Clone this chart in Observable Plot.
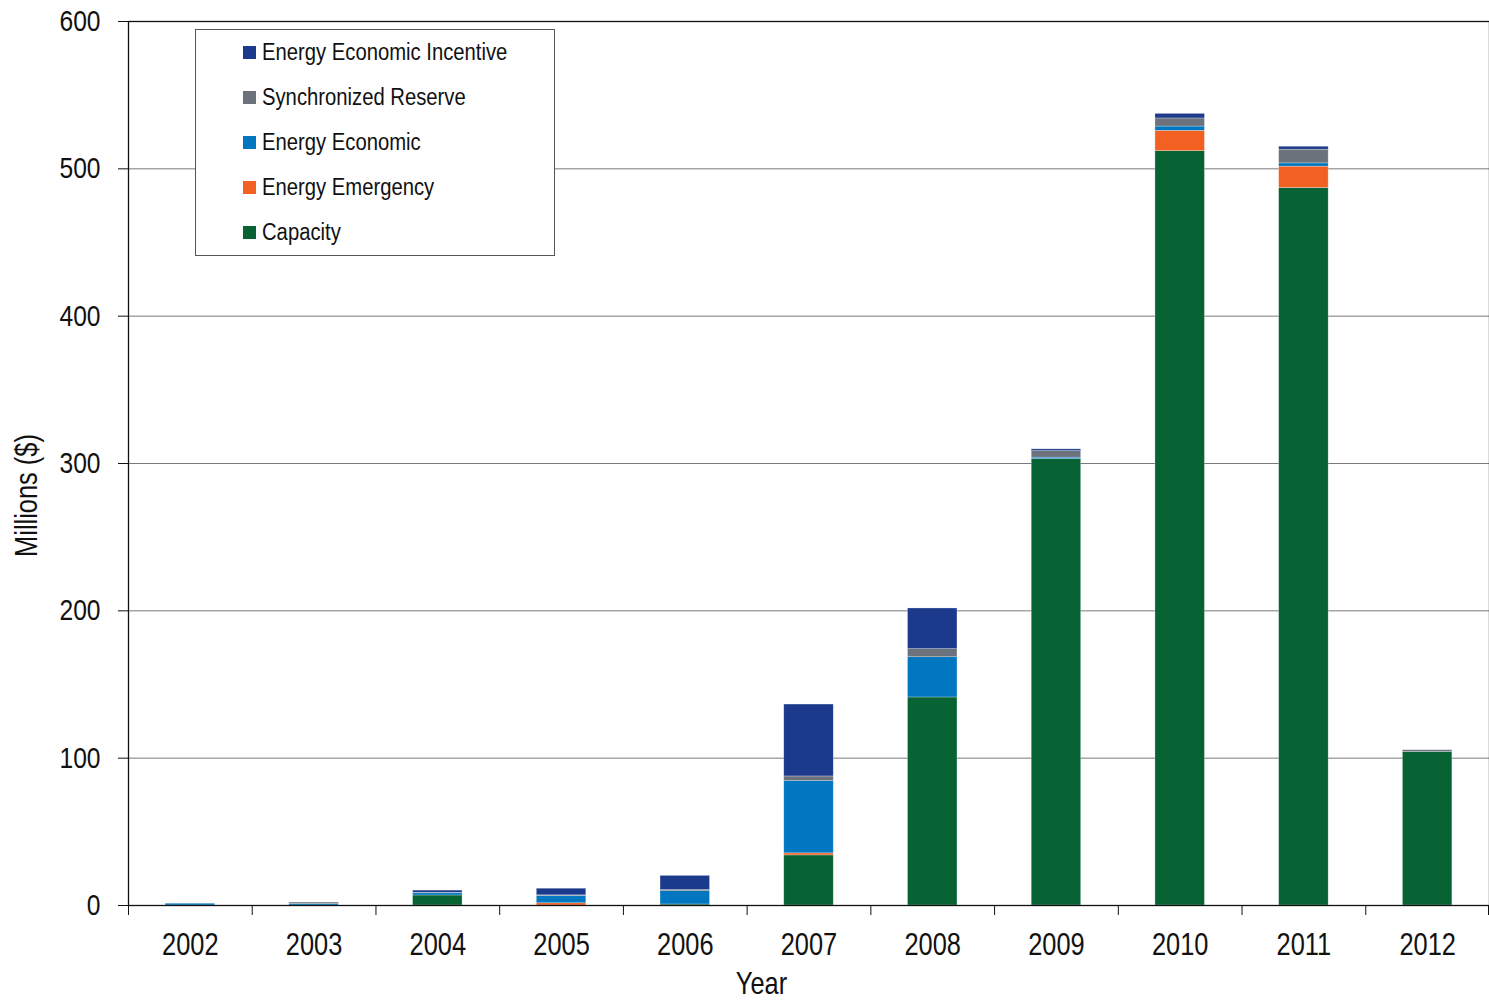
<!DOCTYPE html>
<html>
<head>
<meta charset="utf-8">
<script src="https://cdn.jsdelivr.net/npm/d3@7"></script>
<script src="https://cdn.jsdelivr.net/npm/@observablehq/plot@0.6"></script>
<style>
  html, body { margin: 0; padding: 0; background: #fff; }
  #wrap { position: relative; width: 1489px; height: 1000px; overflow: hidden;
    font-family: 'Liberation Sans', Arial, sans-serif; }
  #legend { position: absolute; left: 195px; top: 29px; width: 360px; height: 227px;
    border: 1px solid #555; background: #fff; box-sizing: border-box; }
  .sw { position: absolute; left: 47px; width: 13px; height: 13px; }
  .lt { position: absolute; left: 66px; font-size: 24.7px; line-height: 24.7px; color: #111;
    white-space: nowrap; transform: scaleX(0.82); transform-origin: 0 0; }
</style>
</head>
<body>
<div id="wrap"><div id="legend"></div></div>
<script>
const years = ["2002","2003","2004","2005","2006","2007","2008","2009","2010","2011","2012"];
const seriesNames = ["Capacity","Energy Emergency","Energy Economic","Synchronized Reserve","Energy Economic Incentive"];
const seriesColors = ["#076333","#f26122","#0077c0","#6b727b","#1c3a8c"];
const legendOrder = ["Energy Economic Incentive","Synchronized Reserve","Energy Economic","Energy Emergency","Capacity"];

const capacity  = [0,   0,   6.8, 0,   0.7, 34,   141.2, 303, 512,  487,  104.2];
const emergency = [0,   0,   0,   1.5, 0,   1.4,  0,     0,   13.8, 14.5, 0];
const economic  = [1.2, 1.0, 1.5, 5.0, 9.0, 49,   27.3,  1.0, 2.9,  2.2,  0];
const synch     = [0,   1.0, 0.3, 0.4, 0.8, 3.2,  5.5,   4.4, 5.5,  9.3,  1.2];
const incentive = [0,   0,   1.5, 4.5, 9.6, 48.8, 27.6,  1.2, 3.1,  2.0,  0];
const yTicks = [0,100,200,300,400,500,600];
const gridTicks = [100,200,300,400,500];
const xTitle = "Year";
const yTitle = "Millions ($)";

const seriesValues = [capacity, emergency, economic, synch, incentive];
const rows = [];
seriesNames.forEach((s, i) => years.forEach((y, j) => rows.push({year: y, series: s, value: seriesValues[i][j]})));

const W = 1489, H = 1000, ML = 128, MR = 0, MT = 21, MB = 95;
const step = (W - ML - MR) / years.length;
const font = "'Liberation Sans', Arial, sans-serif";

const chart = Plot.plot({
  width: W, height: H,
  marginLeft: ML, marginRight: MR, marginTop: MT, marginBottom: MB,
  style: {fontFamily: font, color: "#111", background: "transparent"},
  x: {type: "band", domain: years, paddingInner: 0.6, paddingOuter: 0.3, round: false, label: null},
  y: {domain: [0, 600], label: null},
  color: {domain: seriesNames, range: seriesColors},
  marks: [
    Plot.gridY({ticks: gridTicks, stroke: "#7a7a7a", strokeOpacity: 1, strokeWidth: 1}),
    Plot.barY(rows, {x: "year", y: "value", fill: "series", order: seriesNames,
      stroke: "#ffffff", strokeOpacity: 0.45, strokeWidth: 0.6}),
    Plot.frame({stroke: "#111", strokeWidth: 1.3}),
    Plot.axisY({ticks: yTicks, tickSize: 10, tickPadding: 18, fontSize: 30, stroke: "#111", label: null}),
    Plot.axisX({tickSize: 0, tickPadding: 27, fontSize: 31, label: null}),
    Plot.axisX({tickSize: 10, tickFormat: () => "", dx: -step / 2, stroke: "#111", label: null}),
    Plot.axisX({ticks: [years[years.length - 1]], tickSize: 10, tickFormat: () => "", dx: step / 2 - 1, stroke: "#111", label: null}),
    Plot.text([xTitle], {frameAnchor: "bottom", text: d => d, fontSize: 31, textAnchor: "middle", lineAnchor: "middle", dx: -47.5, dy: 79, fill: "#111"}),
    Plot.text([yTitle], {frameAnchor: "left", text: d => d, fontSize: 31, rotate: -90, textAnchor: "middle", lineAnchor: "middle", dx: -101, dy: 32, fill: "#111"})
  ]
});

// condense text horizontally (Arial Narrow look)
chart.querySelectorAll("text").forEach(t => {
  const tr = t.getAttribute("transform");
  if (tr) {
    t.setAttribute("transform", tr + " scale(0.82,1)");
  } else {
    const x = t.getAttribute("x") || 0, y = t.getAttribute("y") || 0;
    t.removeAttribute("x"); t.removeAttribute("y");
    t.setAttribute("transform", `translate(${x},${y}) scale(0.82,1)`);
  }
});

const wrap = document.getElementById("wrap");
wrap.insertBefore(chart, wrap.firstChild);

const legend = document.getElementById("legend");
legendOrder.forEach((name, i) => {
  const sw = document.createElement("div");
  sw.className = "sw";
  sw.style.top = (16 + i * 45) + "px";
  sw.style.background = seriesColors[seriesNames.indexOf(name)];
  legend.appendChild(sw);
  const lt = document.createElement("div");
  lt.className = "lt";
  lt.style.top = (10 + i * 45) + "px";
  lt.textContent = name;
  legend.appendChild(lt);
});
</script>
</body>
</html>
